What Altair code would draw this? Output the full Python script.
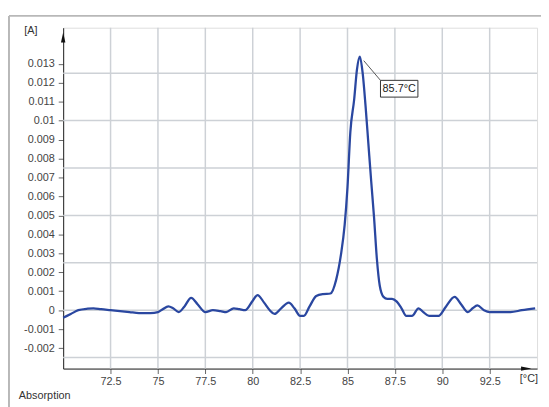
import altair as alt
import pandas as pd

# ---- data ----
temps = [70.0, 70.4, 70.8, 71.3, 71.6, 72.0, 72.5, 73.0, 73.5, 74.0, 74.6, 75.0,
         75.25, 75.55, 75.8, 76.1, 76.4, 76.75, 77.1, 77.5, 77.9, 78.3, 78.6, 79.0,
         79.3, 79.6, 80.0, 80.25, 80.6, 80.9, 81.15, 81.5, 81.9, 82.2, 82.5, 82.7,
         83.0, 83.35, 83.7, 84.1, 84.4, 84.65, 84.85, 85.0, 85.15, 85.35, 85.5,
         85.65, 85.8, 85.95, 86.1, 86.25, 86.4, 86.55, 86.7, 86.9, 87.1, 87.35,
         87.6, 87.85, 88.1, 88.4, 88.75, 89.0, 89.3, 89.8, 90.2, 90.65, 91.0,
         91.35, 91.6, 91.85, 92.2, 92.5, 93.0, 93.6, 94.2, 94.9]
absorb = [-0.0004, -0.0002, 0.0, 0.00008, 0.0001, 0.00005, 0.0, -0.00005, -0.0001,
          -0.00015, -0.00015, -0.0001, 0.00005, 0.0002, 0.0001, -0.0001, 0.0002,
          0.00065, 0.0003, -0.0001, 0.0, -0.00005, -0.0001, 0.0001, 0.00005, 0.0,
          0.0005, 0.0008, 0.0004, 0.0, -0.0002, 0.0001, 0.0004, 0.0001, -0.0003,
          -0.0003, 0.0002, 0.00075, 0.00085, 0.00088, 0.0016, 0.0029, 0.0045,
          0.0065, 0.0094, 0.0111, 0.0127, 0.01337, 0.0125, 0.0108, 0.0088, 0.0068,
          0.0049, 0.0027, 0.0013, 0.0007, 0.0006, 0.0006, 0.00045, 0.0001, -0.0003,
          -0.0003, 0.0001, -0.0001, -0.0003, -0.0003, 0.0002, 0.0007, 0.0003,
          -0.0001, 0.0001, 0.00025, 0.0, -0.0001, -0.0001, -0.0001, 0.0, 0.0001]
x_ticks = [72.5, 75, 77.5, 80, 82.5, 85, 87.5, 90, 92.5]
y_ticks = [-0.002, -0.001, 0.0, 0.001, 0.002, 0.003, 0.004, 0.005, 0.006, 0.007,
           0.008, 0.009, 0.01, 0.011, 0.012, 0.013]
y_grid = [-0.0025, 0, 0.0025, 0.005, 0.0075, 0.01, 0.0125]
x_domain = [70, 95]
y_domain = [-0.00308, 0.0149]
peak_temp = 85.7
peak_abs = 0.01337
peak_label = "85.7°C"

W, H = 481, 346
FONT = "Liberation Sans"
LINE = "#2a47a0"
GRID = "#cdd1d6"

xs = alt.Scale(domain=x_domain, nice=False, zero=False)
ys = alt.Scale(domain=y_domain, nice=False, zero=False)

xa = alt.Axis(
    values=x_ticks, grid=False, title="[°C]", titleAngle=0, format=".1~f",
    titleX=463, titleY=10, titleAlign="left", titleBaseline="middle",
    titleFont=FONT, titleFontSize=11, titleFontWeight="normal",
    titleColor="#333", labelFont=FONT, labelFontSize=11,
    labelColor="#444", labelPadding=2, tickSize=5, tickColor="#666",
    domainColor="#222", domainWidth=1, labelFlush=False, labelOverlap=False)
ya = alt.Axis(
    values=y_ticks, tickCount=18, grid=False, title="[A]", titleAngle=0,
    titleX=-40, titleY=3, titleAlign="left", titleBaseline="middle",
    titleFont=FONT, titleFontSize=11, titleFontWeight="normal",
    titleColor="#333", labelFont=FONT, labelFontSize=11,
    labelColor="#444", labelPadding=4, tickSize=5, tickColor="#666",
    domainColor="#222", domainWidth=1, labelFlush=False, labelOverlap=False,
    labelSeparation=0, labelBound=False,
    labelExpr="replace(format(datum.value, '.3~f'), '\u2212', '-')")

df = pd.DataFrame({"t": temps, "a": absorb})
one = pd.DataFrame({"k": [0]})

grid_h = alt.Chart(pd.DataFrame({"a": y_grid})).mark_rule(
    color=GRID, strokeWidth=1.5).encode(
    y=alt.Y("a:Q", scale=ys, axis=ya), x=alt.value(0), x2=alt.value(W))

grid_v = alt.Chart(pd.DataFrame({"t": x_ticks})).mark_rule(
    color=GRID, strokeWidth=1.5).encode(
    x=alt.X("t:Q", scale=xs, axis=xa), y=alt.value(0), y2=alt.value(H))

line = alt.Chart(df).mark_line(
    interpolate="monotone", color=LINE, strokeWidth=2.3).encode(
    x=alt.X("t:Q", scale=xs, axis=xa),
    y=alt.Y("a:Q", scale=ys, axis=ya),
)

arrow_y = alt.Chart(one).mark_point(
    shape="M0,-1L0.45,1L-0.45,1Z", filled=True, color="#111", size=100,
    opacity=1).encode(x=alt.value(0), y=alt.value(10))
arrow_x = alt.Chart(one).mark_point(
    shape="M1,0L-1,0.4L-1,-0.4Z", filled=True, color="#111", size=110,
    opacity=1).encode(x=alt.value(470), y=alt.value(H))

leader = alt.Chart(one).mark_rule(
    color="#555", strokeWidth=1, xOffset=3, yOffset=4, x2Offset=20,
    y2Offset=24).encode(
    x=alt.datum(peak_temp), x2=alt.datum(peak_temp),
    y=alt.datum(peak_abs), y2=alt.datum(peak_abs))
box = alt.Chart(one).mark_rect(
    fill="white", stroke="#333", strokeWidth=1, xOffset=20, x2Offset=58,
    yOffset=24, y2Offset=41).encode(
    x=alt.datum(peak_temp), x2=alt.datum(peak_temp),
    y=alt.datum(peak_abs), y2=alt.datum(peak_abs))
label = alt.Chart(one).mark_text(
    text=peak_label, dx=39, dy=32.5, font=FONT, fontSize=11,
    color="#222").encode(x=alt.datum(peak_temp), y=alt.datum(peak_abs))

absorption = alt.Chart(one).mark_text(
    text="Absorption", align="left", baseline="middle", font=FONT,
    fontSize=11, color="#333").encode(x=alt.value(-45), y=alt.value(374))

border_v = alt.Chart(one).mark_rule(color="#b8b8b8", strokeWidth=2).encode(
    x=alt.value(-55), y=alt.value(-12), y2=alt.value(400))
border_h = alt.Chart(one).mark_rule(color="#b8b8b8", strokeWidth=2).encode(
    y=alt.value(-12), x=alt.value(-55), x2=alt.value(500))

chart = alt.layer(
    grid_h, grid_v, border_v, border_h, line, arrow_y, arrow_x,
    leader, box, label, absorption
).properties(
    width=W, height=H,
    autosize=alt.AutoSizeParams(type="none"),
    padding={"left": 56, "top": 17, "right": 4, "bottom": 36},
).configure_view(stroke=None).configure(background="white").configure_axis(
    labelOverlap=False)

chart.save("out.html", embed_options={"renderer": "svg", "actions": False})
